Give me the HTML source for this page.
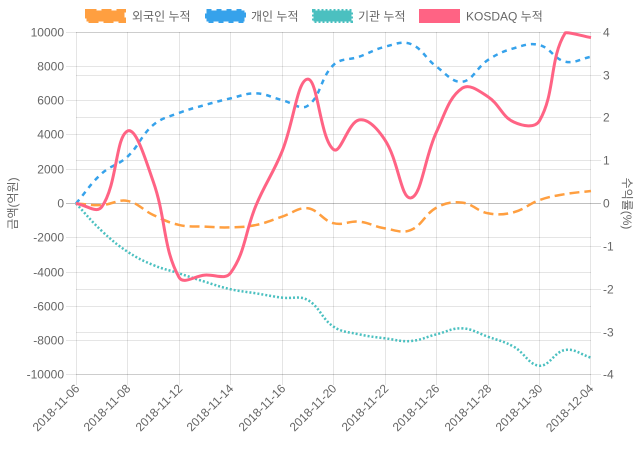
<!DOCTYPE html>
<html>
<head>
<meta charset="utf-8">
<style>
  html,body{margin:0;padding:0;background:#fff;}
  svg{display:block;}
  text{font-family:"Liberation Sans","Noto Sans CJK KR",sans-serif;font-size:12px;fill:#666;}
</style>
</head>
<body>
<svg id="c" width="640" height="450" viewBox="0 0 640 450" xmlns="http://www.w3.org/2000/svg">
  <rect width="640" height="450" fill="#fff"/>

  <!-- vertical grid lines (x axis) -->
  <g stroke="rgba(0,0,0,0.1)" stroke-width="1">
    <line x1="76.5" y1="32" x2="76.5" y2="385"/>
    <line x1="127.5" y1="32" x2="127.5" y2="385"/>
    <line x1="179.5" y1="32" x2="179.5" y2="385"/>
    <line x1="230.5" y1="32" x2="230.5" y2="385"/>
    <line x1="282.5" y1="32" x2="282.5" y2="385"/>
    <line x1="333.5" y1="32" x2="333.5" y2="385"/>
    <line x1="385.5" y1="32" x2="385.5" y2="385"/>
    <line x1="436.5" y1="32" x2="436.5" y2="385"/>
    <line x1="488.5" y1="32" x2="488.5" y2="385"/>
    <line x1="539.5" y1="32" x2="539.5" y2="385"/>
    <line x1="590.5" y1="32" x2="590.5" y2="385"/>
  </g>
  <!-- left axis horizontal grid -->
  <g stroke="rgba(0,0,0,0.1)" stroke-width="1">
    <line x1="66" y1="32.5" x2="591" y2="32.5"/>
    <line x1="66" y1="66.5" x2="591" y2="66.5"/>
    <line x1="66" y1="100.5" x2="591" y2="100.5"/>
    <line x1="66" y1="134.5" x2="591" y2="134.5"/>
    <line x1="66" y1="169.5" x2="591" y2="169.5"/>
    <line x1="66" y1="237.5" x2="591" y2="237.5"/>
    <line x1="66" y1="272.5" x2="591" y2="272.5"/>
    <line x1="66" y1="306.5" x2="591" y2="306.5"/>
    <line x1="66" y1="340.5" x2="591" y2="340.5"/>
    <line x1="66" y1="374.5" x2="591" y2="374.5"/>
  </g>
  <!-- right axis horizontal grid -->
  <g stroke="rgba(0,0,0,0.1)" stroke-width="1">
    <line x1="76" y1="32.5" x2="601" y2="32.5"/>
    <line x1="76" y1="75.5" x2="601" y2="75.5"/>
    <line x1="76" y1="117.5" x2="601" y2="117.5"/>
    <line x1="76" y1="160.5" x2="601" y2="160.5"/>
    <line x1="76" y1="246.5" x2="601" y2="246.5"/>
    <line x1="76" y1="289.5" x2="601" y2="289.5"/>
    <line x1="76" y1="332.5" x2="601" y2="332.5"/>
    <line x1="76" y1="374.5" x2="601" y2="374.5"/>
  </g>
  <!-- zero line -->
  <line x1="66" y1="203.5" x2="601" y2="203.5" stroke="rgba(0,0,0,0.25)" stroke-width="1"/>

  <!-- left tick labels -->
  <g text-anchor="end">
    <text x="64" y="36.5">10000</text>
    <text x="64" y="70.5">8000</text>
    <text x="64" y="104.5">6000</text>
    <text x="64" y="138.5">4000</text>
    <text x="64" y="173.5">2000</text>
    <text x="64" y="207.5">0</text>
    <text x="64" y="241.5">-2000</text>
    <text x="64" y="276.5">-4000</text>
    <text x="64" y="310.5">-6000</text>
    <text x="64" y="344.5">-8000</text>
    <text x="64" y="378.5">-10000</text>
  </g>
  <!-- right tick labels -->
  <g text-anchor="start">
    <text x="603" y="36.5">4</text>
    <text x="603" y="79.5">3</text>
    <text x="603" y="121.5">2</text>
    <text x="603" y="164.5">1</text>
    <text x="603" y="207.5">0</text>
    <text x="603" y="250.5">-1</text>
    <text x="603" y="293.5">-2</text>
    <text x="603" y="336.5">-3</text>
    <text x="603" y="378.5">-4</text>
  </g>

  <!-- x labels -->
  <g text-anchor="end" dominant-baseline="middle">
    <text x="78" y="387" transform="rotate(-45 78 387)">2018-11-06</text>
    <text x="129" y="387" transform="rotate(-45 129 387)">2018-11-08</text>
    <text x="181" y="387" transform="rotate(-45 181 387)">2018-11-12</text>
    <text x="232" y="387" transform="rotate(-45 232 387)">2018-11-14</text>
    <text x="284" y="387" transform="rotate(-45 284 387)">2018-11-16</text>
    <text x="335" y="387" transform="rotate(-45 335 387)">2018-11-20</text>
    <text x="387" y="387" transform="rotate(-45 387 387)">2018-11-22</text>
    <text x="438" y="387" transform="rotate(-45 438 387)">2018-11-26</text>
    <text x="490" y="387" transform="rotate(-45 490 387)">2018-11-28</text>
    <text x="541" y="387" transform="rotate(-45 541 387)">2018-11-30</text>
    <text x="592" y="387" transform="rotate(-45 592 387)">2018-12-04</text>
  </g>

  <!-- axis titles -->
  <text x="13" y="203.5" text-anchor="middle" dominant-baseline="central" transform="rotate(-90 13 203.5)">금액(억원)</text>
  <text x="627" y="203.5" text-anchor="middle" dominant-baseline="central" transform="rotate(90 627 203.5)">수익률(%)</text>

  <!-- legend -->
  <rect x="86.5" y="10.5" width="38" height="11" fill="rgb(255,159,64)" stroke="rgb(255,159,64)" stroke-width="3" stroke-dasharray="10 5"/>
  <text x="132" y="20.5">외국인 누적</text>
  <rect x="206.5" y="10.5" width="38" height="11" fill="rgb(54,162,235)" stroke="rgb(54,162,235)" stroke-width="3" stroke-dasharray="5 5"/>
  <text x="251" y="20.5">개인 누적</text>
  <rect x="313.5" y="10.5" width="38" height="11" fill="rgb(75,192,192)" stroke="rgb(75,192,192)" stroke-width="3" stroke-dasharray="2 2"/>
  <text x="358" y="20.5">기관 누적</text>
  <rect x="420.5" y="10.5" width="38" height="11" fill="rgb(255,99,132)" stroke="rgb(255,99,132)" stroke-width="3"/>
  <text x="466" y="20.5">KOSDAQ 누적</text>

  <!-- series -->
  <path id="p_inst" d="" fill="none" stroke="rgb(75,192,192)" stroke-width="2.5" stroke-dasharray="2 2"/>
  <path id="p_ind" d="" fill="none" stroke="rgb(54,162,235)" stroke-width="2.5" stroke-dasharray="5 5"/>
  <path id="p_for" d="" fill="none" stroke="rgb(255,159,64)" stroke-width="2.5" stroke-dasharray="10 5"/>
  <path id="p_kos" d="" fill="none" stroke="rgb(255,99,132)" stroke-width="3" stroke-linejoin="round"/>
</svg>
<script>
(function(){
  var L=76,R=591,T=32,B=375;
  function X(i){return 76+i*25.75;}
  function yL(v){return 203.5-v*0.01715;}
  function yR(v){return 203.5-v*42.875;}
  function build(vals,yf){
    var p=vals.map(function(v,i){return {x:X(i),y:yf(v)};});
    var t=0.4,n=p.length;
    for(var i=0;i<n;i++){
      var c=p[i],a=p[i-1]||c,b=p[i+1]||c;
      var d01=Math.hypot(c.x-a.x,c.y-a.y),d12=Math.hypot(b.x-c.x,b.y-c.y);
      var s01=d01/(d01+d12),s12=d12/(d01+d12);
      if(isNaN(s01))s01=0; if(isNaN(s12))s12=0;
      var fa=t*s01,fb=t*s12;
      c.px=c.x-fa*(b.x-a.x); c.py=c.y-fa*(b.y-a.y);
      c.nx=c.x+fb*(b.x-a.x); c.ny=c.y+fb*(b.y-a.y);
      c.px=Math.min(Math.max(c.px,L),R); c.nx=Math.min(Math.max(c.nx,L),R);
      c.py=Math.min(Math.max(c.py,T),B); c.ny=Math.min(Math.max(c.ny,T),B);
    }
    var d="M"+p[0].x.toFixed(2)+","+p[0].y.toFixed(2);
    for(var j=1;j<n;j++){
      var q=p[j-1],r=p[j];
      d+=" C"+q.nx.toFixed(2)+","+q.ny.toFixed(2)+" "+r.px.toFixed(2)+","+r.py.toFixed(2)+" "+r.x.toFixed(2)+","+r.y.toFixed(2);
    }
    return d;
  }
  var foreign=[0,-90,150,-670,-1250,-1350,-1390,-1250,-770,-280,-1150,-1060,-1450,-1550,-240,50,-570,-510,200,550,730];
  var indiv=[0,1750,2730,4580,5280,5740,6130,6420,6030,5700,8080,8560,9140,9300,7980,7100,8370,9050,9240,8270,8560];
  var inst=[0,-1600,-2810,-3590,-4070,-4560,-5000,-5240,-5490,-5630,-7180,-7630,-7860,-8020,-7630,-7280,-7770,-8350,-9460,-8540,-8990];
  var kos=[0,-0.08,1.69,0.51,-1.72,-1.67,-1.62,-0.03,1.21,2.9,1.26,1.95,1.48,0.13,1.67,2.69,2.49,1.9,1.93,3.98,3.87];
  document.getElementById('p_for').setAttribute('d',build(foreign,yL));
  document.getElementById('p_ind').setAttribute('d',build(indiv,yL));
  document.getElementById('p_inst').setAttribute('d',build(inst,yL));
  document.getElementById('p_kos').setAttribute('d',build(kos,yR));
})();
</script>
</body>
</html>
